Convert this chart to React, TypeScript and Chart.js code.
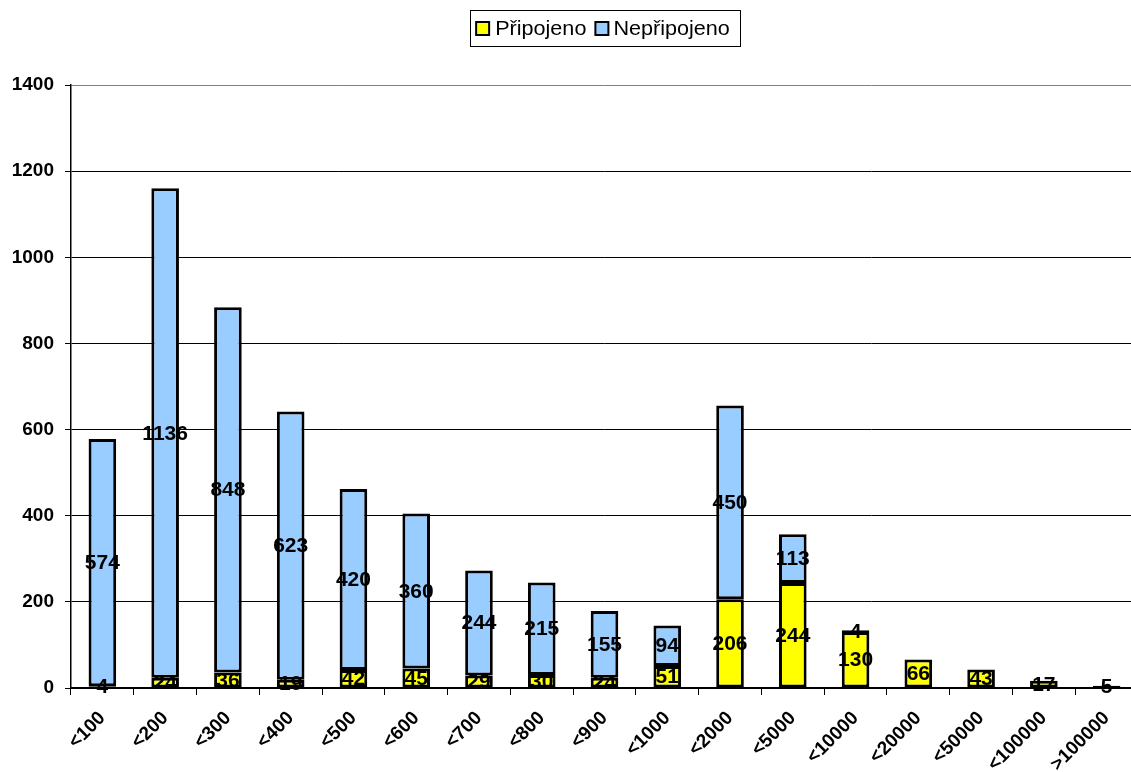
import { useEffect, useRef } from "react";
import { Chart, registerables } from "chart.js";

Chart.register(...registerables);

const categories = ["<100", "<200", "<300", "<400", "<500", "<600", "<700", "<800", "<900", "<1000", "<2000", "<5000", "<10000", "<20000", "<50000", "<100000", ">100000"];
const pripojeno = [4, 24, 36, 19, 42, 45, 29, 30, 24, 51, 206, 244, 130, 66, 43, 17, 5];
const nepripojeno = [574, 1136, 848, 623, 420, 360, 244, 215, 155, 94, 450, 113, 4, 0, 0, 0, 0];
const seriesNames = ["Připojeno", "Nepřipojeno"];
const seriesColors = ["#FFFF00", "#99CCFF"];
const yMin = 0;
const yMax = 1400;
const yStep = 200;

const FONT = '"Liberation Sans", Arial, sans-serif';

const valueLabels = {
  id: "valueLabels",
  afterDatasetsDraw(chart: any) {
    const ctx = chart.ctx;
    ctx.save();
    ctx.font = `bold 20px ${FONT}`;
    ctx.fillStyle = "#000";
    ctx.textAlign = "center";
    ctx.textBaseline = "middle";
    chart.data.datasets.forEach((ds: any, i: number) => {
      const meta = chart.getDatasetMeta(i);
      meta.data.forEach((bar: any, j: number) => {
        const v = ds.data[j];
        if (!v) return;
        const p = bar.getProps(["x", "y", "base"], true);
        const cy = (p.y + p.base) / 2 + 1;
        ctx.save();
        ctx.translate(p.x, cy);
        ctx.scale(1.05, 1);
        ctx.fillText(String(v), 0, 0);
        ctx.restore();
      });
    });
    ctx.restore();
  },
};

const boxLegend = {
  id: "boxLegend",
  afterDraw(chart: any) {
    const ctx = chart.ctx;
    ctx.save();
    ctx.font = `20px ${FONT}`;
    const sx = 1.08;
    const w = seriesNames.map((n) => ctx.measureText(n).width * sx);
    const sq = 13;
    const total = 6 + sq + 6 + w[0] + 9 + sq + 5 + w[1] + 10;
    const left = 605 - total / 2;
    const top = 10;
    const h = 36;
    ctx.fillStyle = "#fff";
    ctx.fillRect(left, top, total, h);
    ctx.strokeStyle = "#000";
    ctx.lineWidth = 1;
    ctx.strokeRect(Math.round(left) + 0.5, top + 0.5, Math.round(total), h);
    let x = left + 6;
    const cy = top + h / 2 + 0.5;
    seriesNames.forEach((n, i) => {
      ctx.fillStyle = seriesColors[i];
      ctx.fillRect(x, cy - sq / 2, sq, sq);
      ctx.lineWidth = 2;
      ctx.strokeStyle = "#000";
      ctx.strokeRect(x, cy - sq / 2, sq, sq);
      x += sq + (i === 0 ? 6 : 5);
      ctx.save();
      ctx.translate(x, cy);
      ctx.scale(sx, 1);
      ctx.fillStyle = "#000";
      ctx.textBaseline = "middle";
      ctx.textAlign = "left";
      ctx.fillText(n, 0, 1);
      ctx.restore();
      x += w[i] + 9;
    });
    ctx.restore();
  },
};

export default function App() {
  const ref = useRef<HTMLCanvasElement | null>(null);
  useEffect(() => {
    if (!ref.current) return;
    const chart = new Chart(ref.current, {
      type: "bar",
      data: {
        labels: categories,
        datasets: [
          {
            label: seriesNames[0],
            data: pripojeno,
            backgroundColor: seriesColors[0],
            borderColor: "#000",
            borderWidth: 3,
            borderSkipped: false,
            barPercentage: 0.44,
            categoryPercentage: 1,
          },
          {
            label: seriesNames[1],
            data: nepripojeno,
            backgroundColor: seriesColors[1],
            borderColor: "#000",
            borderWidth: 3,
            borderSkipped: false,
            barPercentage: 0.44,
            categoryPercentage: 1,
          },
        ],
      },
      options: {
        responsive: false,
        animation: false,
        layout: { padding: { top: 85, right: 2, left: 0, bottom: 0 } },
        plugins: {
          legend: { display: false },
          tooltip: { enabled: false },
          title: { display: false },
        },
        scales: {
          x: {
            stacked: true,
            afterFit: (s: any) => {
              s.height = 84;
            },
            grid: {
              offset: true,
              drawOnChartArea: false,
              drawTicks: true,
              tickLength: 7,
              color: "#000",
            },
            border: { display: true, color: "#000", width: 2 },
            ticks: {
              color: "#000",
              font: { family: FONT, size: 19, weight: "bold" },
              minRotation: 45,
              maxRotation: 45,
              autoSkip: false,
              padding: 12,
            },
          },
          y: {
            stacked: true,
            min: yMin,
            max: yMax,
            afterFit: (s: any) => {
              s.width = 71;
            },
            grid: {
              color: (c: any) => (c.tick && c.tick.value === yMax ? "#808080" : "#000"),
              tickColor: "#000",
              tickLength: 6,
              lineWidth: 1,
            },
            border: { display: true, color: "#000", width: 1.5 },
            ticks: {
              stepSize: yStep,
              color: "#000",
              font: { family: FONT, size: 19, weight: "bold" },
              padding: 11,
              callback: (v: any) => String(v),
            },
          },
        },
      },
      plugins: [valueLabels, boxLegend],
    } as any);
    return () => chart.destroy();
  }, []);
  return (
    <div style={{ position: "fixed", left: 0, top: 0, width: 1131, height: 772, overflow: "hidden", background: "#fff" }}>
      <canvas ref={ref} width={1140} height={772} style={{ display: "block", width: 1140, height: 772 }} />
    </div>
  );
}
